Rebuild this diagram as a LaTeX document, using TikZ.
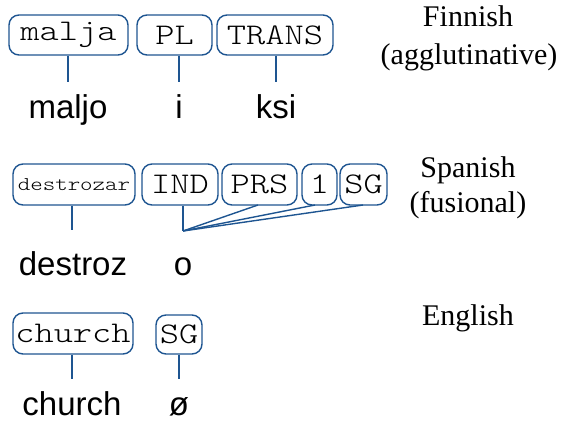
\documentclass[tikz,border=0pt]{standalone}
\usepackage{fontspec}
\setmainfont{Liberation Serif}
\setsansfont{Liberation Sans}
\newfontfamily\courfont[FakeStretch=1.22]{Latin Modern Mono Light}
\definecolor{lineblue}{RGB}{30,85,145}
\begin{document}
\begin{tikzpicture}[x=1pt,y=-1pt,
  morph/.style={draw=lineblue,line width=1.4pt,rounded corners=10pt,inner sep=0pt,
     font=\courfont\fontsize{30}{30}\selectfont,anchor=center},
  smallmorph/.style={morph,font=\courfont\fontsize{19.5}{19.5}\selectfont},
  link/.style={draw=lineblue,line width=1.4pt},
  surf/.style={font=\sffamily\fontsize{33}{33}\selectfont,anchor=base,inner sep=0pt},
  lang/.style={font=\fontsize{30}{30}\selectfont,anchor=base,inner sep=0pt}]
\useasboundingbox (0,0) rectangle (563,423);
% Finnish
\node[morph,minimum width=119pt,minimum height=40pt] (m1) at (68.5,35) {malja};
\node[morph,minimum width=75pt,minimum height=40pt] (m2) at (174.5,35) {PL};
\node[morph,minimum width=116pt,minimum height=40pt] (m3) at (275,35) {TRANS};
\node[surf] (s1) at (68,118) {maljo};
\node[surf] (s2) at (179,118) {i};
\node[surf] (s3) at (276,118) {ksi};
\coordinate (c1) at (68,82);
\coordinate (c2) at (179,82);
\coordinate (c3) at (276,82);
\draw[link] (m1.south -| c1) -- (c1);
\draw[link] (m2.south -| c2) -- (c2);
\draw[link] (m3.south -| c3) -- (c3);
% Spanish
\node[smallmorph,minimum width=122pt,minimum height=41pt] (d1) at (74,184.5) {destrozar};
\node[morph,minimum width=76pt,minimum height=41pt] (d2) at (180,184.5) {IND};
\node[morph,minimum width=75pt,minimum height=41pt] (d3) at (259.5,184.5) {PRS};
\node[morph,minimum width=35pt,minimum height=41pt] (d4) at (319.5,184.5) {1};
\node[morph,minimum width=47pt,minimum height=41pt] (d5) at (363.5,184.5) {SG};
\node[surf] (t1) at (73,275) {destroz};
\node[surf] (t2) at (183,275) {o};
\coordinate (e1) at (72,230);
\coordinate (e2) at (183,231);
\draw[link] (d1.south -| e1) -- (e1);
\draw[link] (d2.south -| e2) -- (e2);
\draw[link] (258,205) -- (e2);
\draw[link] (315,205) -- (e2);
\draw[link] (363,205) -- (e2);
% English
\node[morph,minimum width=120pt,minimum height=41pt] (g1) at (73,333.5) {church};
\node[morph,minimum width=46pt,minimum height=39pt] (g2) at (179,334.5) {SG};
\node[surf] (u1) at (72,415) {church};
\node[surf] (u2) at (179,415) {ø};
\coordinate (f1) at (72,379);
\coordinate (f2) at (179,379);
\draw[link] (g1.south -| f1) -- (f1);
\draw[link] (g2.south -| f2) -- (f2);
% language labels
\node[lang] (l1) at (468,27) {Finnish};
\node[lang] (l2) at (469,64) {(agglutinative)};
\node[lang] (l3) at (468,177) {Spanish};
\node[lang] (l4) at (468,212) {(fusional)};
\node[lang] (l5) at (468,325) {English};
\end{tikzpicture}
\end{document}
